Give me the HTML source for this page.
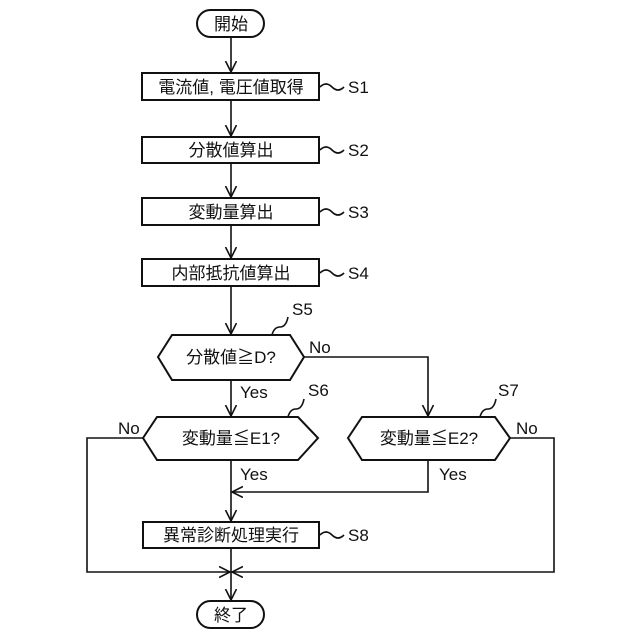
<!DOCTYPE html>
<html><head><meta charset="utf-8"><style>body{margin:0;background:#fff}svg{display:block}text{font-family:"Liberation Sans","Noto Sans CJK JP",sans-serif;font-size:17px;fill:#111}</style></head><body>
<svg width="640" height="640" viewBox="0 0 640 640" xmlns="http://www.w3.org/2000/svg">
<defs><marker id="a" markerWidth="12" markerHeight="14" refX="11" refY="6" orient="auto" markerUnits="userSpaceOnUse"><path d="M0,0.5 L11,6 L0,11.5" fill="none" stroke="#111" stroke-width="1.6"/></marker></defs>
<g fill="none" stroke="#111" stroke-width="2">
<rect x="197" y="10" width="67" height="27" rx="13.5"/>
<rect x="142" y="73" width="177" height="27"/>
<rect x="142" y="137" width="177" height="26"/>
<rect x="142" y="198" width="177" height="27"/>
<rect x="142" y="259" width="177" height="27"/>
<polygon points="158,357 172,335 290,335 304,357 290,380 172,380"/>
<polygon points="143,438 157,417 298,417 318,438 298,460 157,460"/>
<polygon points="348,438 362,417 495,417 510,438 495,460 362,460"/>
<rect x="143" y="522" width="176" height="26"/>
<rect x="197" y="601" width="67" height="27" rx="13.5"/>
</g>
<g fill="none" stroke="#111" stroke-width="1.6">
<line x1="231" y1="37" x2="231" y2="72" marker-end="url(#a)"/>
<line x1="231" y1="100" x2="231" y2="136" marker-end="url(#a)"/>
<line x1="231" y1="163" x2="231" y2="197" marker-end="url(#a)"/>
<line x1="231" y1="225" x2="231" y2="258" marker-end="url(#a)"/>
<line x1="231" y1="286" x2="231" y2="334" marker-end="url(#a)"/>
<line x1="231" y1="380" x2="231" y2="416" marker-end="url(#a)"/>
<polyline points="304,357 428,357 428,416" marker-end="url(#a)"/>
<line x1="231" y1="460" x2="231" y2="521" marker-end="url(#a)"/>
<polyline points="428,460 428,492 232,492" marker-end="url(#a)"/>
<polyline points="143,438 87,438 87,572 230,572" marker-end="url(#a)"/>
<polyline points="510,438 554,438 554,572 232,572" marker-end="url(#a)"/>
<line x1="231" y1="548" x2="231" y2="600" marker-end="url(#a)"/>
<path d="M320,87 q6,-6 12,0 t12,0"/>
<path d="M320,150 q6,-6 12,0 t12,0"/>
<path d="M320,212 q6,-6 12,0 t12,0"/>
<path d="M320,273 q6,-6 12,0 t12,0"/>
<path d="M320,535 q6,-6 12,0 t12,0"/>
<path d="M272,335 q2,-8 8,-8 t8,-10"/>
<path d="M288,417 q2,-8 8,-8 t8,-10"/>
<path d="M480,417 q2,-8 8,-8 t8,-10"/>
</g>
<g text-anchor="middle">
<text x="231" y="30">開始</text>
<text x="231" y="93">電流値, 電圧値取得</text>
<text x="231" y="156">分散値算出</text>
<text x="231" y="218">変動量算出</text>
<text x="231" y="279">内部抵抗値算出</text>
<text x="231" y="363">分散値≧D?</text>
<text x="231" y="444">変動量≦E1?</text>
<text x="429" y="444">変動量≦E2?</text>
<text x="231" y="541">異常診断処理実行</text>
<text x="231" y="621">終了</text>
</g>
<g>
<text x="348" y="93">S1</text>
<text x="348" y="156">S2</text>
<text x="348" y="218">S3</text>
<text x="348" y="279">S4</text>
<text x="348" y="541">S8</text>
<text x="292" y="315">S5</text>
<text x="308" y="396">S6</text>
<text x="498" y="396">S7</text>
<text x="309" y="353">No</text>
<text x="240" y="398">Yes</text>
<text x="118" y="434">No</text>
<text x="516" y="434">No</text>
<text x="240" y="480">Yes</text>
<text x="439" y="480">Yes</text>
</g>
</svg>
</body></html>
